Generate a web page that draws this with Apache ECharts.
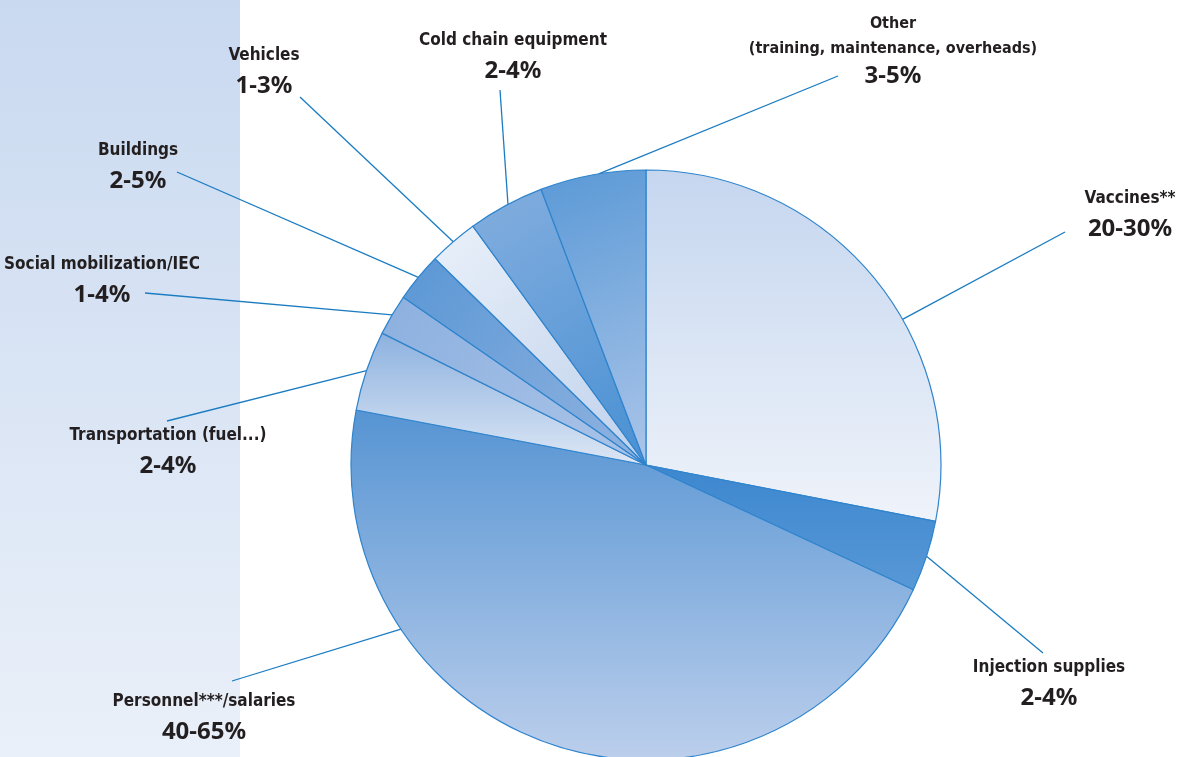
<!DOCTYPE html>
<html>
<head>
<meta charset="utf-8">
<script src="https://cdn.jsdelivr.net/npm/echarts@6/dist/echarts.min.js"></script>
<style>
  html, body { margin: 0; padding: 0; background: #ffffff; }
  #chart { width: 1178px; height: 757px; }
</style>
</head>
<body>
<div id="chart"></div>
<script>
// ---- data ----
const categories = [
  'Vaccines**',
  'Injection supplies',
  'Personnel***/salaries',
  'Transportation (fuel...)',
  'Social mobilization/IEC',
  'Buildings',
  'Vehicles',
  'Cold chain equipment',
  'Other\n(training, maintenance, overheads)'
];
const shares = [28.1, 3.9, 46.1, 4.4, 2.25, 2.7, 2.7, 4.2, 5.8];
const rangeLabels = ['20-30%', '2-4%', '40-65%', '2-4%', '1-4%', '2-5%', '1-3%', '2-4%', '3-5%'];

// ---- layout / style ----
const CX = 646, CY = 465, R = 295;
// label block centre x and top y
const labelBox = [
  [1130, 183], [1049, 652], [204, 686], [168, 420], [102, 249],
  [138, 135], [264, 40], [513, 25], [893, 11]
];
// end of leader line next to the text
const leaderEnd = [
  [1065, 232], [1043, 653], [232, 681], [167, 421], [145, 293],
  [177, 172], [300, 97], [500, 90], [838, 76]
];
// shift (deg, clockwise) of leader anchor from slice mid-angle
const anchorShift = [9.9, 0, 38.3, 0, 0, 0, 0, 0.5, 1.2];

const sliceFill = [
  [0, 0, 0, 1, '#c5d6ef', '#eff3fa'],
  [0, 0, 0, 1, '#3c87cf', '#5898d6'],
  [0, 0, 0, 1, '#5694d3', '#bccfec'],
  [0, 0, 0, 1, '#8cb1df', '#dde7f5'],
  [0, 0, 1, 1, '#8cb0df', '#abc4e8'],
  [0, 0, 1, 1, '#5a97d5', '#91b3e0'],
  [0, 0, 1, 1, '#e9f0f9', '#bfd1ec'],
  [0, 0, 1, 1, '#84aedf', '#4890d3'],
  [0, 0, 1, 1, '#5a99d6', '#abc5e9']
];

const total = shares.reduce((a, b) => a + b, 0);
const midAngles = [];
(function () {
  let acc = 0;
  shares.forEach(v => {
    midAngles.push((acc + v / 2) / total * 360);
    acc += v;
  });
})();

const chart = echarts.init(document.getElementById('chart'), null, { renderer: 'canvas' });

const data = categories.map((name, i) => {
  const f = sliceFill[i];
  return {
    name: name,
    value: shares[i],
    itemStyle: {
      color: {
        type: 'linear', x: f[0], y: f[1], x2: f[2], y2: f[3],
        colorStops: [{ offset: 0, color: f[4] }, { offset: 1, color: f[5] }]
      }
    }
  };
});

const nameFont = '"DejaVu Sans Condensed", "Liberation Sans Narrow", sans-serif';

const option = {
  animation: false,
  backgroundColor: '#ffffff',
  graphic: [{
    type: 'rect',
    z: -10,
    silent: true,
    shape: { x: 0, y: 0, width: 240, height: 757 },
    style: {
      fill: {
        type: 'linear', x: 0, y: 0, x2: 0, y2: 1,
        colorStops: [{ offset: 0, color: '#c9d9f0' }, { offset: 1, color: '#eaf0f9' }]
      }
    }
  }],
  series: [{
    type: 'pie',
    center: [CX, CY],
    radius: [0, R],
    startAngle: 90,
    clockwise: true,
    avoidLabelOverlap: false,
    silent: true,
    data: data,
    itemStyle: { borderColor: '#2f84cd', borderWidth: 1.2 },
    label: {
      show: true,
      position: 'outside',
      color: '#231f20',
      formatter: function (p) {
        const i = p.dataIndex;
        const lines = categories[i].split('\n');
        const tag = lines.length > 1 ? 'm' : 'n';
        return lines.map(l => '{' + tag + '|' + l + '}').join('\n') + '\n{v|' + rangeLabels[i] + '}';
      },
      rich: {
        n: { fontFamily: nameFont, fontWeight: 'bold', fontSize: 17, lineHeight: 31, color: '#231f20', align: 'center' },
        m: { fontFamily: nameFont, fontWeight: 'bold', fontSize: 16, lineHeight: 25, color: '#231f20', align: 'center' },
        v: { fontFamily: '"Noto Sans", "Liberation Sans", sans-serif', fontWeight: 'bold', fontSize: 24, lineHeight: 31, color: '#231f20', align: 'center' }
      }
    },
    labelLine: {
      show: true,
      lineStyle: { color: '#1b7cc2', width: 1.3 }
    },
    labelLayout: function (params) {
      const i = params.dataIndex;
      const a = (midAngles[i] + anchorShift[i]) * Math.PI / 180;
      const ax = CX + R * Math.sin(a);
      const ay = CY - R * Math.cos(a);
      const e = leaderEnd[i];
      return {
        x: labelBox[i][0],
        y: labelBox[i][1],
        align: 'center',
        verticalAlign: 'top',
        labelLinePoints: [[ax, ay], [e[0], e[1]], [e[0], e[1]]]
      };
    }
  }]
};
chart.setOption(option);
</script>
</body>
</html>
